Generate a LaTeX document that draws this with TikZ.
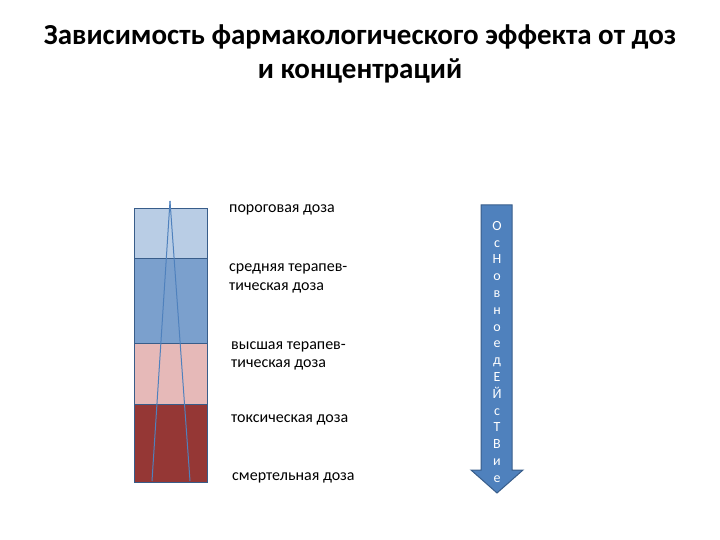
\documentclass[tikz,border=0pt]{standalone}
\usepackage{fontspec}
\setmainfont{Carlito}
\usetikzlibrary{positioning}
\definecolor{porog}{HTML}{B9CDE5}
\definecolor{sredn}{HTML}{7BA0CD}
\definecolor{vyssh}{HTML}{E6B9B8}
\definecolor{toks}{HTML}{953735}
\definecolor{rama}{HTML}{385D8A}
\definecolor{linia}{HTML}{4F81BD}
\tikzset{%
band/.style={draw=rama,line width=1.3pt,minimum width=73pt,inner sep=0pt,anchor=north west},
label/.style={font=\fontsize{16}{19}\selectfont,align=left,anchor=base west,inner sep=0pt},
title/.style={font=\bfseries\fontsize{29}{34}\selectfont,anchor=base,inner sep=0pt},
leg/.style={draw=linia,line width=1pt},
strela/.style={fill=linia,draw=rama,line width=1pt}
}
\begin{document}
\begin{tikzpicture}[x=1pt,y=-1pt]
\useasboundingbox (0,0) rectangle (720,540);
% title
\node[title] (title) at (360,45) {Зависимость фармакологического эффекта от доз};
\node[title] (title2) at (360,79) {и концентраций};
% column of doses
\node[band,fill=porog,minimum height=50pt] (porog) at (134,208) {};
\node[band,fill=sredn,minimum height=85pt] (sredn) at (134,258) {};
\node[band,fill=vyssh,minimum height=61pt] (vyssh) at (134,343) {};
\node[band,fill=toks,minimum height=78pt]  (toks)  at (134,404) {};
\coordinate (apex) at (170,201);
\coordinate (lfoot) at (152,481);
\coordinate (rfoot) at (190,481);
\foreach \f in {lfoot,rfoot}
  \draw[leg] (apex) -- (\f);
% labels
\node[label] (lporog) at (229,212) {пороговая доза};
\node[label] (lsredn) at (229,271) {средняя терапев-};
\node[label] (lsredn2) at (229,290) {тическая доза};
\node[label] (lvyssh) at (231,349) {высшая терапев-};
\node[label] (lvyssh2) at (231,367) {тическая доза};
\node[label] (ltoks)  at (231,422) {токсическая доза};
\node[label] (lsmert) at (232,480) {смертельная доза};
% arrow
\draw[strela] (481,205) -- (512,205) -- (512,470) -- (523,470) -- (497,493)
  -- (471,470) -- (481,470) -- cycle;
\node[font=\fontsize{14}{16.8}\selectfont,text=white,align=center,inner sep=0pt,anchor=north] (deistvie) at (497,221)
  {О\\с\\Н\\о\\в\\н\\о\\е\\д\\Е\\Й\\с\\Т\\В\\и\\е};
\end{tikzpicture}
\end{document}
